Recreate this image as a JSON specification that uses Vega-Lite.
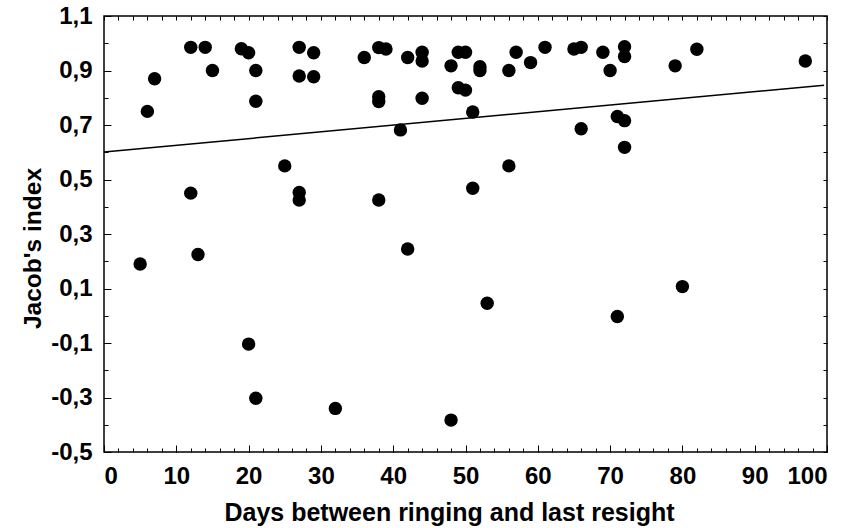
{
  "$schema": "https://vega.github.io/schema/vega-lite/v6.json",
  "autosize": "none",
  "width": 723,
  "height": 436,
  "padding": {"left": 104, "top": 16, "right": 23, "bottom": 76},
  "background": "white",
  "config": {
    "view": {"stroke": "black", "strokeWidth": 1.5},
    "font": "Liberation Sans",
    "axis": {"grid": false, "domain": false, "tickColor": "black", "labelColor": "black", "titleColor": "black", "labelFont": "Liberation Sans", "titleFont": "Liberation Sans", "labelFontWeight": "bold", "titleFontWeight": "bold"}
  },
  "datasets": {
    "pts": [
      {"days": 5, "j": 0.19}, {"days": 6, "j": 0.75}, {"days": 7, "j": 0.87},
      {"days": 12, "j": 0.985}, {"days": 12, "j": 0.45}, {"days": 13, "j": 0.225},
      {"days": 14, "j": 0.985}, {"days": 15, "j": 0.9},
      {"days": 19, "j": 0.98}, {"days": 20, "j": 0.965}, {"days": 20, "j": -0.104},
      {"days": 21, "j": 0.9}, {"days": 21, "j": 0.787}, {"days": 21, "j": -0.303},
      {"days": 25, "j": 0.55},
      {"days": 27, "j": 0.985}, {"days": 27, "j": 0.88}, {"days": 27, "j": 0.452}, {"days": 27, "j": 0.425},
      {"days": 29, "j": 0.965}, {"days": 29, "j": 0.877},
      {"days": 32, "j": -0.34},
      {"days": 36, "j": 0.948},
      {"days": 38, "j": 0.984}, {"days": 38, "j": 0.804}, {"days": 38, "j": 0.786}, {"days": 38, "j": 0.425},
      {"days": 39, "j": 0.979},
      {"days": 41, "j": 0.682},
      {"days": 42, "j": 0.948}, {"days": 42, "j": 0.245},
      {"days": 44, "j": 0.967}, {"days": 44, "j": 0.935}, {"days": 44, "j": 0.798},
      {"days": 48, "j": 0.917}, {"days": 48, "j": -0.383},
      {"days": 49, "j": 0.967}, {"days": 49, "j": 0.837},
      {"days": 50, "j": 0.967}, {"days": 50, "j": 0.828},
      {"days": 51, "j": 0.748}, {"days": 51, "j": 0.468},
      {"days": 52, "j": 0.914}, {"days": 52, "j": 0.9},
      {"days": 53, "j": 0.046},
      {"days": 56, "j": 0.9}, {"days": 56, "j": 0.55},
      {"days": 57, "j": 0.967},
      {"days": 59, "j": 0.929},
      {"days": 61, "j": 0.985},
      {"days": 65, "j": 0.979},
      {"days": 66, "j": 0.985}, {"days": 66, "j": 0.686},
      {"days": 69, "j": 0.967},
      {"days": 70, "j": 0.9},
      {"days": 71, "j": 0.731}, {"days": 71, "j": -0.003},
      {"days": 72, "j": 0.987}, {"days": 72, "j": 0.951}, {"days": 72, "j": 0.716}, {"days": 72, "j": 0.618},
      {"days": 79, "j": 0.917},
      {"days": 80, "j": 0.107},
      {"days": 82, "j": 0.978},
      {"days": 97, "j": 0.935}
    ],
    "fit": [
      {"days": 0, "j": 0.601},
      {"days": 99.6, "j": 0.846}
    ]
  },
  "layer": [
    {
      "data": {"name": "pts"},
      "mark": {"type": "point", "filled": true, "color": "black", "opacity": 1, "size": 180, "shape": "circle"},
      "encoding": {
        "x": {"field": "days", "type": "quantitative", "scale": {"domain": [0, 100], "nice": false, "zero": false},
          "axis": {"orient": "bottom", "values": [0,10,20,30,40,50,60,70,80,90,100], "tickSize": -7, "tickWidth": 1, "labelFontSize": 24, "labelPadding": 19, "labelOverlap": false, "title": "Days between ringing and last resight", "titleFontSize": 25, "titlePadding": 12, "titleX": 345}},
        "y": {"field": "j", "type": "quantitative", "scale": {"domain": [-0.5, 1.1], "nice": false, "zero": false},
          "axis": {"orient": "left", "values": [-0.5,-0.3,-0.1,0.1,0.3,0.5,0.7,0.9,1.1], "labelExpr": "replace(replace(format(datum.value, '.1f'), '.', ','), '\u2212', '-')", "tickSize": -7, "tickWidth": 1, "labelFontSize": 24, "labelPadding": 19, "labelOverlap": false, "title": "Jacob's index", "titleFontSize": 24.5, "titlePadding": 5, "titleY": 232}}
      }
    },
    {
      "data": {"name": "fit"},
      "mark": {"type": "line", "color": "black", "strokeWidth": 1.5},
      "encoding": {
        "x": {"field": "days", "type": "quantitative", "axis": {"orient": "top", "values": [0,2,4,6,8,10,12,14,16,18,20,22,24,26,28,30,32,34,36,38,40,42,44,46,48,50,52,54,56,58,60,62,64,66,68,70,72,74,76,78,80,82,84,86,88,90,92,94,96,98,100], "tickSize": -4, "labels": false, "title": null}},
        "y": {"field": "j", "type": "quantitative", "axis": {"orient": "right", "values": [-0.5,-0.4,-0.3,-0.2,-0.1,0,0.1,0.2,0.3,0.4,0.5,0.6,0.7,0.8,0.9,1.0,1.1], "tickSize": -4, "labels": false, "title": null}}
      }
    },
    {
      "data": {"name": "fit"},
      "mark": {"type": "line", "opacity": 0},
      "encoding": {
        "x": {"field": "days", "type": "quantitative", "axis": {"orient": "bottom", "values": [0,2,4,6,8,10,12,14,16,18,20,22,24,26,28,30,32,34,36,38,40,42,44,46,48,50,52,54,56,58,60,62,64,66,68,70,72,74,76,78,80,82,84,86,88,90,92,94,96,98,100], "tickSize": -4, "labels": false, "title": null}},
        "y": {"field": "j", "type": "quantitative", "axis": {"orient": "left", "values": [-0.5,-0.4,-0.3,-0.2,-0.1,0,0.1,0.2,0.3,0.4,0.5,0.6,0.7,0.8,0.9,1.0,1.1], "tickSize": -4, "labels": false, "title": null}}
      }
    }
  ],
  "resolve": {"scale": {"x": "shared", "y": "shared"}}
}
